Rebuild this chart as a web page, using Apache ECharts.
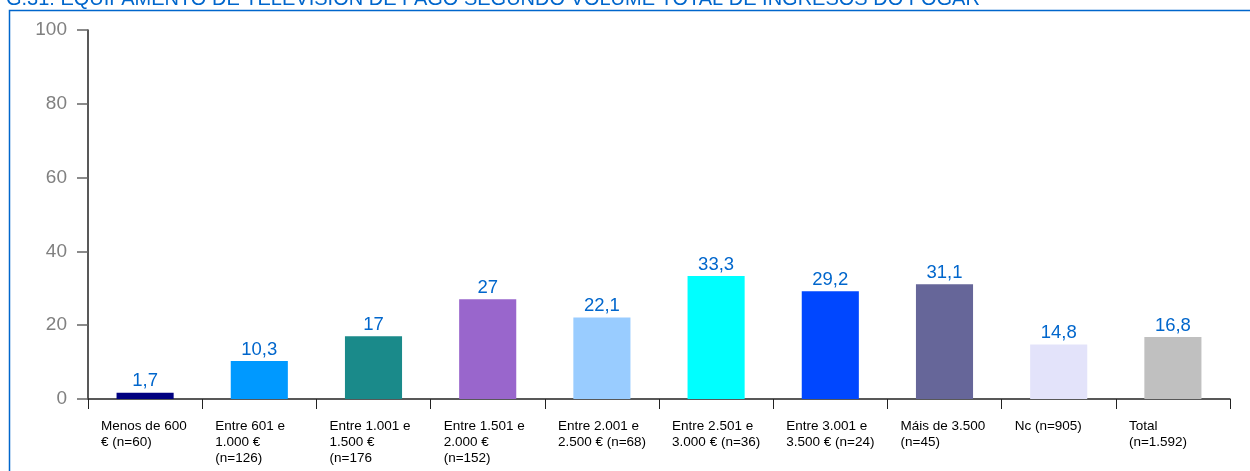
<!DOCTYPE html>
<html lang="gl">
<head>
  <meta charset="UTF-8">
  <title>G.31</title>
  <style>
    * { padding: 0; margin: 0; }
    html, body { width: 100%; height: 100%; background: #fff; }
    #chart { width: 1250px; height: 471px; }
  </style>
  <script src="https://cdn.jsdelivr.net/npm/echarts@6/dist/echarts.min.js"></script>
</head>
<body>
  <div id="chart"></div>
  <script>
    // datos
    var categorias = [
      'Menos de 600\n€ (n=60)',
      'Entre 601 e\n1.000 €\n(n=126)',
      'Entre 1.001 e\n1.500 €\n(n=176',
      'Entre 1.501 e\n2.000 €\n(n=152)',
      'Entre 2.001 e\n2.500 € (n=68)',
      'Entre 2.501 e\n3.000 € (n=36)',
      'Entre 3.001 e\n3.500 € (n=24)',
      'Máis de 3.500\n(n=45)',
      'Nc (n=905)',
      'Total\n(n=1.592)'
    ];
    var valores = [1.7, 10.3, 17, 27, 22.1, 33.3, 29.2, 31.1, 14.8, 16.8];
    var cores = ['#000080', '#0099FF', '#1A8A8A', '#9966CC', '#99CCFF',
                 '#00FFFF', '#0047FF', '#666699', '#E3E3FA', '#C0C0C0'];
    var ticksY = [0, 20, 40, 60, 80, 100];

    var chart = echarts.init(document.getElementById('chart'));
    var option = {
      backgroundColor: '#fff',
      animation: false,
      title: {
        text: 'G.31: EQUIPAMENTO DE TELEVISIÓN DE PAGO SEGUNDO VOLUME TOTAL DE INGRESOS DO FOGAR',
        left: 6,
        top: -11,
        padding: 0,
        textStyle: {
          color: '#0066CC',
          fontFamily: 'Liberation Sans',
          fontWeight: 'normal',
          fontSize: 20
        }
      },
      graphic: [{
        type: 'rect',
        shape: { x: 9.5, y: 10.5, width: 1300, height: 500 },
        style: { fill: 'none', stroke: '#0066CC', lineWidth: 1.5 },
        silent: true
      }],
      grid: { left: 88, right: 20, top: 30, bottom: 72 },
      xAxis: {
        type: 'category',
        data: categorias,
        axisLine: { lineStyle: { color: '#222', width: 1.5 } },
        axisTick: { show: true, length: 10, lineStyle: { color: '#222' } },
        axisLabel: {
          interval: 0,
          margin: 19,
          formatter: function (v) {
            return v.split('\n').map(function (l) { return '{a|' + l + '}'; }).join('\n');
          },
          rich: {
            a: {
              width: 88,
              align: 'left',
              fontFamily: 'Liberation Sans',
              fontSize: 13.5,
              lineHeight: 16,
              color: '#000'
            }
          }
        }
      },
      yAxis: {
        type: 'value',
        min: ticksY[0],
        max: ticksY[ticksY.length - 1],
        interval: 20,
        splitLine: { show: false },
        axisLine: { show: true, lineStyle: { color: '#222', width: 1.5 } },
        axisTick: { show: true, length: 11, lineStyle: { color: '#666', width: 1.5 } },
        axisLabel: {
          margin: 21,
          color: '#808080',
          fontFamily: 'Liberation Sans',
          fontSize: 19
        }
      },
      series: [{
        type: 'bar',
        barWidth: '50%',
        data: valores.map(function (v, i) {
          return { value: v, itemStyle: { color: cores[i] } };
        }),
        label: {
          show: true,
          position: 'top',
          distance: 2,
          color: '#0066CC',
          fontFamily: 'Liberation Sans',
          fontSize: 18.5,
          formatter: function (p) { return String(p.value).replace('.', ','); }
        }
      }]
    };
    chart.setOption(option);
  </script>
</body>
</html>
